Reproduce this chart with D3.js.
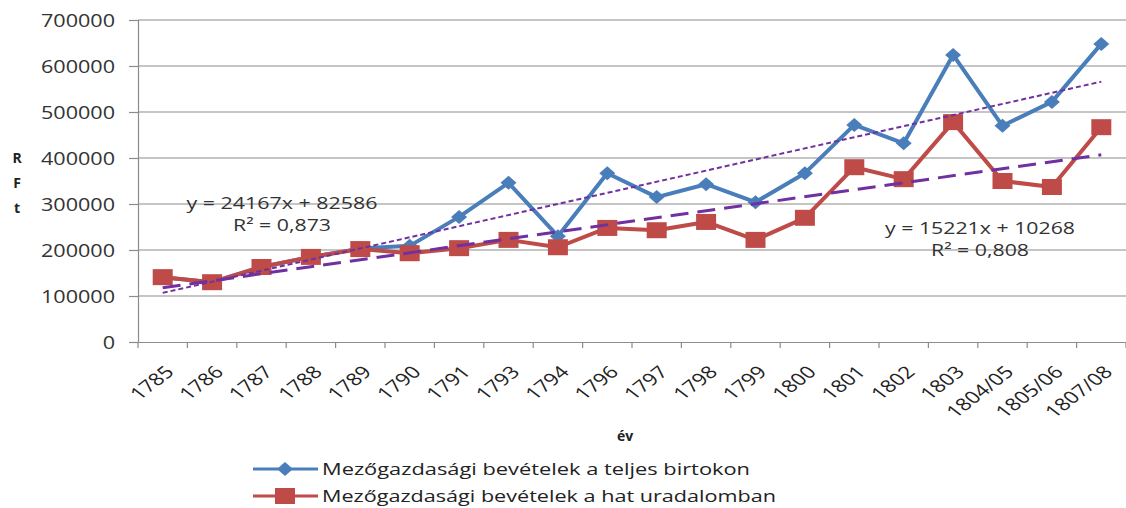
<!DOCTYPE html>
<html>
<head>
<meta charset="utf-8">
<script src="https://cdn.jsdelivr.net/npm/d3@7"></script>
<style>
  body { margin: 0; background: #fff; }
  svg { display: block; font-family: "Open Sans", sans-serif; }
</style>
</head>
<body>
<div id="chart"></div>
<script>
// categories (years) and the two income series
var years = ["1785","1786","1787","1788","1789","1790","1791","1793","1794","1796",
             "1797","1798","1799","1800","1801","1802","1803","1804/05","1805/06","1807/08"];
var teljes = [141000,130000,163000,185000,203000,209000,272000,346000,230000,367000,
              315000,343000,304000,367000,472000,432000,624000,470000,522000,648000];
var hat = [141000,130000,163000,185000,202000,193000,204000,222000,206000,248000,
           243000,261000,222000,270000,380000,354000,478000,350000,337000,467000];
var yTicks = [0,100000,200000,300000,400000,500000,600000,700000];

// linear trendlines (slope, intercept), x = 1..n
var trendTeljes = [24167, 82586];
var trendHat = [15221, 102680];
var eqLabels = [["y = 24167x + 82586", "R\u00b2 = 0,873"], ["y = 15221x + 10268", "R\u00b2 = 0,808"]];
var legendNames = ["Mez\u0151gazdas\u00e1gi bev\u00e9telek a teljes birtokon",
                   "Mez\u0151gazdas\u00e1gi bev\u00e9telek a hat uradalomban"];

var W = 1126, H = 508;
var plotL = 138, plotR = 1126, plotT = 20, plotB = 342;
var blue = "#4a7ebb", red = "#be4b48", purple = "#7030a0";
var sx = 1.2; // text in the picture is stretched horizontally

var svg = d3.select("#chart").append("svg").attr("width", W).attr("height", H);

var x = d3.scaleBand().domain(years).range([plotL, plotR]);
var y = d3.scaleLinear().domain([0, 700000]).range([plotB, plotT]);
var cx = function(i){ return x(years[i]) + x.bandwidth()/2; };

// gridlines
svg.append("g").selectAll("line").data(yTicks.slice(1)).enter().append("line")
    .attr("x1", plotL).attr("x2", plotR)
    .attr("y1", function(d){ return y(d); }).attr("y2", function(d){ return y(d); })
    .attr("stroke", "#8c8c8c").attr("stroke-width", 1.2);

// y axis
var yAxis = svg.append("g").attr("transform", "translate(" + plotL + ",0)")
    .call(d3.axisLeft(y).tickValues(yTicks).tickSize(9).tickPadding(0).tickFormat(d3.format("d")));
yAxis.select(".domain").attr("stroke", "#8c8c8c").attr("stroke-width", 1.2);
yAxis.selectAll(".tick line").attr("stroke", "#8c8c8c").attr("stroke-width", 1.2);
yAxis.selectAll(".tick text")
    .attr("x", -23 / sx).attr("dy", "0.36em")
    .attr("transform", "scale(" + sx + ",1)")
    .attr("font-size", 18).attr("font-family", "Open Sans").attr("fill", "#333");

// x axis
var xAxis = svg.append("g").attr("transform", "translate(0," + plotB + ")")
    .call(d3.axisBottom(x).tickSize(0).tickPadding(0));
xAxis.select(".domain").attr("stroke", "#8c8c8c").attr("stroke-width", 1.2);
xAxis.selectAll(".tick line").remove();
svg.append("g").selectAll("line").data(years.concat(["end"])).enter().append("line")
    .attr("x1", function(d, i){ return plotL + i * x.step(); })
    .attr("x2", function(d, i){ return plotL + i * x.step(); })
    .attr("y1", plotB).attr("y2", plotB + 6)
    .attr("stroke", "#8c8c8c").attr("stroke-width", 1.2);
xAxis.selectAll(".tick text")
    .attr("x", 0).attr("y", 0).attr("dy", "0.35em")
    .attr("text-anchor", "end")
    .attr("transform", "translate(7,27) scale(1.3,1) rotate(-45)")
    .attr("font-size", 17).attr("font-family", "Open Sans").attr("fill", "#222");

// axis titles
svg.append("text").attr("x", 625).attr("y", 441).attr("text-anchor", "middle")
    .attr("font-size", 14).attr("font-weight", "bold").attr("fill", "#222").text("\u00e9v");
["R","F","t"].forEach(function(c, i){
  svg.append("text").attr("x", 17).attr("y", 163 + i * 25).attr("text-anchor", "middle")
      .attr("font-size", 14).attr("font-weight", "bold").attr("fill", "#222").text(c);
});

// series
function seriesLine(vals){
  return d3.line().x(function(d, i){ return cx(i); }).y(function(d){ return y(d); })(vals);
}
function diamond(px, py){ return "M" + (px - 8) + "," + py + "L" + px + "," + (py - 7) + "L" + (px + 8) + "," + py + "L" + px + "," + (py + 7) + "Z"; }
function square(px, py){ return "M" + (px - 10) + "," + (py - 8) + "h20v16h-20Z"; }

svg.append("path").attr("d", seriesLine(teljes)).attr("fill", "none")
    .attr("stroke", blue).attr("stroke-width", 4).attr("stroke-linejoin", "round");
svg.append("g").selectAll("path").data(teljes).enter().append("path")
    .attr("d", function(d, i){ return diamond(cx(i), y(d)); }).attr("fill", blue);

svg.append("path").attr("d", seriesLine(hat)).attr("fill", "none")
    .attr("stroke", red).attr("stroke-width", 4).attr("stroke-linejoin", "round");
svg.append("g").selectAll("path").data(hat).enter().append("path")
    .attr("d", function(d, i){ return square(cx(i), y(d)); }).attr("fill", red);

// trendlines
function trend(c){
  var n = years.length;
  return [[cx(0), y(c[0] * 1 + c[1])], [cx(n - 1), y(c[0] * n + c[1])]];
}
var t1 = trend(trendTeljes), t2 = trend(trendHat);
svg.append("line").attr("x1", t1[0][0]).attr("y1", t1[0][1]).attr("x2", t1[1][0]).attr("y2", t1[1][1])
    .attr("stroke", purple).attr("stroke-width", 2).attr("stroke-dasharray", "5,3");
svg.append("line").attr("x1", t2[0][0]).attr("y1", t2[0][1]).attr("x2", t2[1][0]).attr("y2", t2[1][1])
    .attr("stroke", purple).attr("stroke-width", 3).attr("stroke-dasharray", "18,9");

// equation labels
var eqPos = [[282, 209], [980, 234]];
var eqLen = [[191, 98], [190, 98]];
eqLabels.forEach(function(lines, k){
  lines.forEach(function(t, j){
    svg.append("text").attr("x", eqPos[k][0]).attr("y", eqPos[k][1] + j * 22)
        .attr("text-anchor", "middle").attr("font-size", 17).attr("fill", "#333")
        .attr("textLength", eqLen[k][j]).attr("lengthAdjust", "spacingAndGlyphs").text(t);
  });
});

// legend
var legColors = [blue, red];
var legLen = [428, 454];
legendNames.forEach(function(name, k){
  var ly = 469 + k * 27;
  svg.append("line").attr("x1", 253).attr("x2", 318).attr("y1", ly).attr("y2", ly)
      .attr("stroke", legColors[k]).attr("stroke-width", 3);
  svg.append("path").attr("d", k === 0 ? diamond(285, ly) : square(285, ly)).attr("fill", legColors[k]);
  svg.append("text").attr("x", 322).attr("y", ly).attr("dy", "0.35em")
      .attr("font-size", 17).attr("fill", "#222")
      .attr("textLength", legLen[k]).attr("lengthAdjust", "spacingAndGlyphs").text(name);
});
</script>
</body>
</html>
